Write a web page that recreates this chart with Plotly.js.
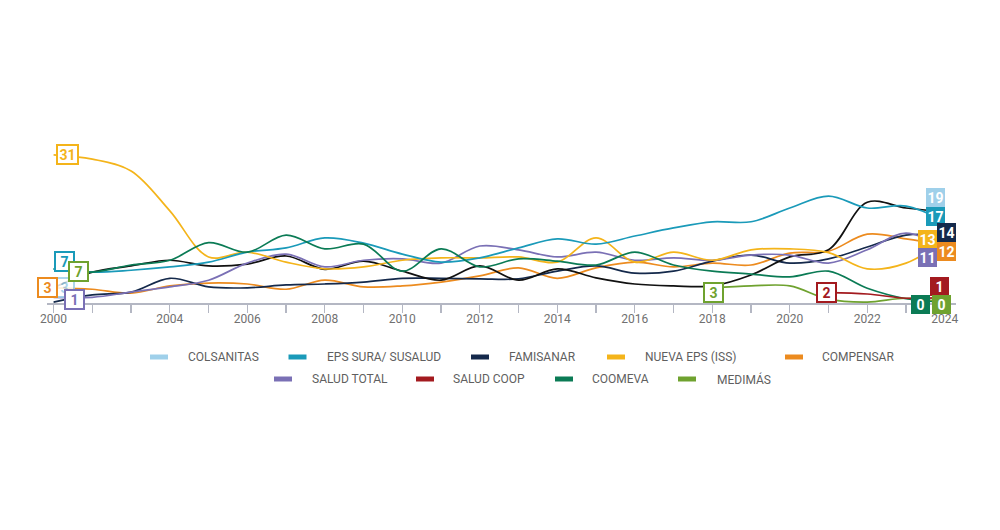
<!DOCTYPE html>
<html>
<head>
<meta charset="utf-8">
<script src="https://cdn.plot.ly/plotly-3.0.1.min.js"></script>
<style>
html,body{margin:0;padding:0;background:#ffffff;}
#chart{width:1000px;height:530px;}
</style>
</head>
<body>
<div id="chart"></div>
<script>
// ---------- DATA ----------
const tickLabels = ['2000','','','2004','','2006','','2008','','2010','','2012','','2014','','2016','','2018','','2020','','2022','','2024'];

const colsanitas = [3, 6.3, 7.6, 8.8, 7.6, 8.0, 9.7, 6.9, 8.6, 6.5, 4.6, 7.6, 4.6, 7.0, 5.1, 3.8, 3.4, 3.4, 5.7, 9.5, 11, 21, 19.8, 19];
const epsSura    = [7, 6.3, 6.7, 7.4, 8.4, 10.5, 11.4, 13.5, 12.4, 10.1, 8.4, 9.3, 11.4, 13.3, 12.2, 13.9, 15.6, 16.9, 16.9, 19.8, 22.3, 19.8, 20.2, 17];
const famisanar  = [0, 1.5, 2.1, 5.0, 3.2, 3.0, 3.6, 3.8, 4.2, 5.0, 5.0, 4.9, 4.9, 6.5, 7.6, 6.1, 6.5, 8.6, 9.9, 8.2, 9.1, 11.6, 14.1, 14];
const nuevaEps   = [31, 30.1, 27.6, 19.2, 9.5, 10.5, 8.4, 7.0, 7.4, 8.8, 9.3, 9.3, 9.5, 8.4, 13.5, 8.4, 10.5, 8.8, 11, 11.2, 10.4, 7.0, 8.2, 13];
const compensar  = [3, 2.7, 1.9, 3.4, 4.0, 3.8, 2.7, 4.6, 3.2, 3.4, 4.2, 5.5, 7.2, 5.0, 7.2, 8.4, 7.4, 8.2, 7.8, 10.3, 10.7, 14.3, 13.3, 12];
const saludTotal = [1, 1.0, 2.1, 3.2, 4.6, 8.2, 10.1, 7.4, 8.8, 9.1, 8.2, 11.8, 11, 9.5, 10.5, 8.8, 9.3, 8.8, 9.9, 9.9, 8.2, 11, 14.5, 11];
const saludCoop  = [null,null,null,null,null,null,null,null,null,null,null,null,null,null,null,null,null,null,null,null, 2, 1.7, 0.8, 1];
const coomeva    = [7, 6.3, 7.8, 8.8, 12.5, 10.5, 14.1, 11.2, 12.2, 6.5, 11.2, 7.4, 9.1, 8.6, 7.8, 10.5, 7.8, 6.5, 5.9, 5.3, 6.5, 2.9, 0.7, 0];
const medimas    = [null,null,null,null,null,null,null,null,null,null,null,null,null,null,null,null,null, 3, 3.4, 3.4, 0.6, 0, 0.8, 0];

const seriesNames = ['COLSANITAS','EPS SURA/ SUSALUD','FAMISANAR','NUEVA EPS (ISS)','COMPENSAR','SALUD TOTAL','SALUD COOP','COOMEVA','MEDIMÁS'];

// ---------- STYLE ----------
const FONT = 'Roboto, "Liberation Sans Narrow", sans-serif';
const legendColors = {
  COLSANITAS:'#9fd0ea', 'EPS SURA/ SUSALUD':'#1a9ab9', FAMISANAR:'#14294b', 'NUEVA EPS (ISS)':'#f4b41a',
  COMPENSAR:'#ec8b1f', 'SALUD TOTAL':'#7a70b5', 'SALUD COOP':'#a31a1f', COOMEVA:'#0b7b55', 'MEDIMÁS':'#6fa22f'
};
const lineColors = Object.assign({}, legendColors, {COLSANITAS:'#111111'});
const seriesData = {
  COLSANITAS:colsanitas, 'EPS SURA/ SUSALUD':epsSura, FAMISANAR:famisanar, 'NUEVA EPS (ISS)':nuevaEps,
  COMPENSAR:compensar, 'SALUD TOTAL':saludTotal, 'SALUD COOP':saludCoop, COOMEVA:coomeva, 'MEDIMÁS':medimas
};
const xIdx = tickLabels.map((_, i) => i);

// drawing order (bottom to top)
const drawOrder = ['COMPENSAR','FAMISANAR','COLSANITAS','SALUD TOTAL','NUEVA EPS (ISS)','EPS SURA/ SUSALUD','COOMEVA','MEDIMÁS','SALUD COOP'];
const traces = drawOrder.map(name => ({
  type:'scatter', mode:'lines', name:name, x:xIdx, y:seriesData[name],
  line:{color:lineColors[name], width:1.7, shape:'spline', smoothing:1},
  showlegend:false, hoverinfo:'skip'
}));

// ---------- VALUE BOXES ----------
const boxSpecs = [
  {name:'COLSANITAS', at:0, kind:'open', faded:true, dx:11, dy:0},
  {name:'COMPENSAR', at:0, kind:'open', dx:-6, dy:0},
  {name:'EPS SURA/ SUSALUD', at:0, kind:'open', dx:11, dy:7},
  {name:'COOMEVA', at:0, kind:'open', colorOverride:'MEDIMÁS', dx:25, dy:-3},
  {name:'SALUD TOTAL', at:0, kind:'open', dx:21, dy:-2},
  {name:'NUEVA EPS (ISS)', at:0, kind:'open', dx:14, dy:0},
  {name:'MEDIMÁS', at:17, kind:'open', dx:1.5, dy:-5},
  {name:'SALUD COOP', at:20, kind:'open', dx:-2, dy:0.5},
  {name:'COLSANITAS', at:23, kind:'fill', dx:-9.5, dy:14.3},
  {name:'EPS SURA/ SUSALUD', at:23, kind:'fill', dx:-9.5, dy:4.8},
  {name:'NUEVA EPS (ISS)', at:23, kind:'fill', dx:-17.5, dy:1.3},
  {name:'FAMISANAR', at:23, kind:'fill', dx:1.5, dy:3},
  {name:'COMPENSAR', at:23, kind:'fill', dx:1.5, dy:-6.5},
  {name:'SALUD TOTAL', at:23, kind:'fill', dx:-17.5, dy:-7.7},
  {name:'SALUD COOP', at:23, kind:'fill', dx:-5.5, dy:10.8},
  {name:'COOMEVA', at:23, kind:'fill', dx:-24, dy:-2},
  {name:'MEDIMÁS', at:23, kind:'fill', dx:-3, dy:-2}
];

const annotations = boxSpecs.map(b => {
  const v = seriesData[b.name][b.at];
  const col = legendColors[b.colorOverride || b.name];
  const base = {
    x:b.at, y:v, xref:'x', yref:'y', showarrow:false, xshift:b.dx, yshift:b.dy,
    text:'<b>' + String(Math.round(v)) + '</b>', xanchor:'center', yanchor:'middle',
    align:'center', valign:'middle', borderpad:1
  };
  if (b.kind === 'open') {
    const w = String(Math.round(v)).length > 1 ? 17 : 15;
    return Object.assign(base, {
      width:w, height:15, bgcolor:'#ffffff', bordercolor:col, borderwidth:2,
      font:{family:FONT, size:14, color:col}, opacity: b.faded ? 0.85 : 1
    });
  }
  return Object.assign(base, {
    width:17, height:17, bgcolor:col, bordercolor:col, borderwidth:0,
    font:{family:FONT, size:14, color:'#ffffff'}
  });
});

// ---------- CUSTOM LEGEND ----------
const PL = 47, PW = 909, PB = 303, PH = 163;
const px2x = p => (p - PL) / PW;
const px2y = p => (PB - p) / PH;
const legendRows = [
  {y:357, items:[['COLSANITAS',159,186],['EPS SURA/ SUSALUD',297.5,325],['FAMISANAR',480,507],['NUEVA EPS (ISS)',616,643],['COMPENSAR',794,820]]},
  {y:379, items:[['SALUD TOTAL',283,310],['SALUD COOP',425,451],['COOMEVA',564,590],['MEDIMÁS',687,715]]}
];
const shapes = [];
legendRows.forEach(row => {
  row.items.forEach(([name, sx, tx]) => {
    shapes.push({type:'line', xref:'paper', yref:'paper',
      x0:px2x(sx - 9), x1:px2x(sx + 9), y0:px2y(row.y), y1:px2y(row.y),
      line:{color:legendColors[name], width:5}});
    annotations.push({xref:'paper', yref:'paper', x:px2x(tx), y:px2y(row.y),
      xanchor:'left', yanchor:'middle', showarrow:false, text:name,
      font:{family:FONT, size:12, color:'#5f5f5f'}});
  });
});

const layout = {
  width:1000, height:530,
  margin:{l:PL, r:1000 - PL - PW, t:PB - PH, b:530 - PB},
  paper_bgcolor:'#ffffff', plot_bgcolor:'#ffffff',
  showlegend:false,
  xaxis:{
    range:[-0.17, 23.29], tickmode:'array', tickvals:xIdx, ticktext:tickLabels,
    ticks:'outside', ticklen:8, tickwidth:1.3, tickcolor:'#b4b7c3',
    showline:true, linecolor:'#b4b7c3', linewidth:2,
    showgrid:false, zeroline:false, ticklabelstandoff:-4,
    tickfont:{family:FONT, size:12, color:'#707070'}, fixedrange:true
  },
  yaxis:{range:[-0.2, 34.116], visible:false, showgrid:false, zeroline:false, fixedrange:true},
  annotations:annotations,
  shapes:shapes
};

Plotly.newPlot('chart', traces, layout, {displayModeBar:false, staticPlot:true});
</script>
</body>
</html>
